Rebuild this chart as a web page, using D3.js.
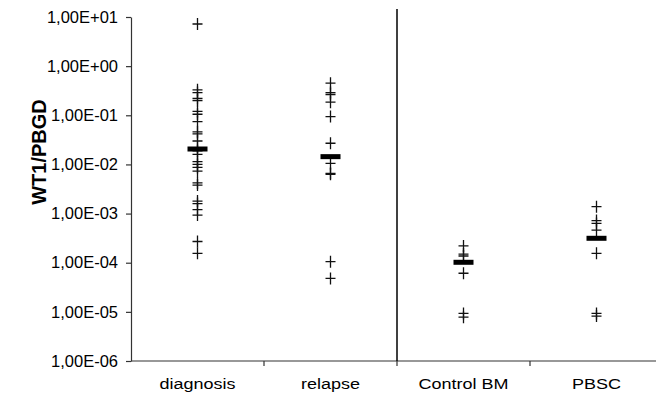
<!DOCTYPE html>
<html>
<head>
<meta charset="utf-8">
<script src="https://cdn.jsdelivr.net/npm/d3@7"></script>
<style>
  body { margin: 0; background: #fff; }
  text { font-family: "Liberation Sans", Arial, sans-serif; fill: #000; }
</style>
</head>
<body>
<div class="visHolder"></div>
<script>
// categories and values
const categories = ['diagnosis', 'relapse', 'Control BM', 'PBSC'];
const diagnosis = [7.2, 0.33, 0.29, 0.22, 0.2, 0.12, 0.105, 0.074, 0.046, 0.042, 0.03, 0.022, 0.019,
  0.016, 0.0114, 0.01, 0.0087, 0.0073, 0.0042, 0.0038, 0.0018, 0.0016, 0.0012, 0.00093, 0.00027, 0.000155];
const relapse = [0.45, 0.29, 0.265, 0.185, 0.094, 0.027, 0.0105, 0.0066, 0.0063, 0.000105, 0.000048];
const controlBM = [0.00022, 0.00015, 0.000137, 0.000061, 0.0000093, 0.0000078];
const pbsc = [0.00138, 0.00072, 0.00063, 0.00046, 0.000155, 0.0000093, 0.0000082];
const medians = [0.0206, 0.0144, 0.000102, 0.000314];
const yTicks = [1e1, 1e0, 1e-1, 1e-2, 1e-3, 1e-4, 1e-5, 1e-6];

const w = 656, h = 403;
const margin = {top: 17, left: 131, bottom: 42};
const stretch = 1.2; // category labels in the original are widened

const series = [diagnosis, relapse, controlBM, pbsc];

const svg = d3.select('.visHolder')
  .append('svg')
  .attr('width', w)
  .attr('height', h);

const xScale = d3.scaleBand()
  .domain(categories)
  .range([margin.left, margin.left + 4 * 133]);

const yScale = d3.scaleLog()
  .domain([1e-6, 1e1])
  .range([h - margin.bottom, margin.top]);

const fmt = d => {
  const e = Math.round(Math.log10(d));
  return `1,00E${e >= 0 ? '+' : '-'}${String(Math.abs(e)).padStart(2, '0')}`;
};

// y axis
const yAxis = d3.axisLeft(yScale)
  .tickValues(yTicks)
  .tickFormat(fmt)
  .tickSize(5)
  .tickSizeOuter(0)
  .tickPadding(8);

const gy = svg.append('g')
  .attr('transform', `translate(${margin.left}, 0)`)
  .call(yAxis);
gy.selectAll('path, line').attr('stroke', '#333').attr('stroke-width', 1.2);
gy.selectAll('text')
  .style('font-size', '16.5px')
  .attr('fill', '#000');

// x axis, ticks on the category boundaries
const y0 = yScale.range()[0];
const gx = svg.append('g');
gx.append('line')
  .attr('x1', xScale.range()[0]).attr('x2', xScale.range()[1])
  .attr('y1', y0).attr('y2', y0)
  .attr('stroke', '#333').attr('stroke-width', 1.2);
gx.selectAll('.tick')
  .data(categories.slice(1).map(c => xScale(c)).concat([xScale.range()[1]]))
  .join('line')
  .attr('x1', d => d).attr('x2', d => d)
  .attr('y1', y0).attr('y2', y0 + 5)
  .attr('stroke', '#333').attr('stroke-width', 1.2);
gx.selectAll('text')
  .data(categories)
  .join('text')
  .attr('text-anchor', 'middle')
  .attr('font-size', 15)
  .attr('transform', d => `translate(${xScale(d) + xScale.bandwidth() / 2}, ${y0 + 28}) scale(${stretch},1)`)
  .text(d => d);

// separator between patients and controls
svg.append('line')
  .attr('x1', xScale('Control BM')).attr('x2', xScale('Control BM'))
  .attr('y1', margin.top - 8).attr('y2', y0)
  .attr('stroke', '#000').attr('stroke-width', 1.5);

// y title
svg.append('text')
  .attr('transform', `translate(46, ${(y0 + margin.top) / 2 - 37}) rotate(-90)`)
  .attr('text-anchor', 'middle')
  .attr('font-size', 20)
  .attr('font-weight', 'bold')
  .text('WT1/PBGD');

// data points as plus signs
series.forEach((vals, i) => {
  const cx = xScale(categories[i]) + xScale.bandwidth() / 2;
  svg.append('g')
    .selectAll('path')
    .data(vals)
    .join('path')
    .attr('d', d => `M${cx - 5},${yScale(d)}H${cx + 5}M${cx},${yScale(d) - 6}V${yScale(d) + 6}`)
    .attr('stroke', '#111')
    .attr('stroke-width', 1.3)
    .attr('fill', 'none');
});

// medians
svg.append('g')
  .selectAll('rect')
  .data(medians)
  .join('rect')
  .attr('x', (d, i) => xScale(categories[i]) + xScale.bandwidth() / 2 - 10)
  .attr('y', d => yScale(d) - 2.5)
  .attr('width', 20)
  .attr('height', 5)
  .attr('fill', '#000');
</script>
</body>
</html>
